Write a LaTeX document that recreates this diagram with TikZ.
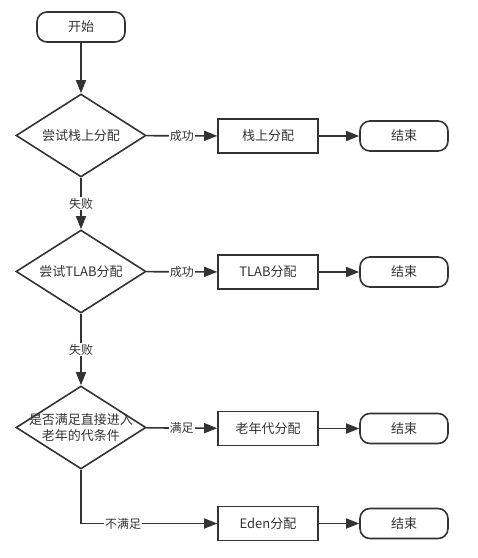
\documentclass[tikz,border=0pt]{standalone}
\usepackage{fontspec}
\setmainfont{Noto Sans CJK SC}
\usetikzlibrary{shapes.geometric,arrows.meta}
\definecolor{ink}{HTML}{333333}

\begin{document}
\begin{tikzpicture}[x=1pt,y=-1pt,
  every node/.style={text=ink},
  terminal/.style={draw=ink, line width=1.6pt, rounded corners=10pt,
    minimum width=88pt, minimum height=30pt, inner sep=0pt,
    font=\fontsize{13}{15}\selectfont},
  process/.style={draw=ink, line width=1.6pt,
    minimum width=100pt, minimum height=34pt, inner sep=0pt,
    font=\fontsize{13}{15}\selectfont},
  decision/.style={draw=ink, line width=1.6pt, diamond,
    minimum width=130pt, minimum height=83pt, inner sep=0pt},
  dtext/.style={align=center, font=\fontsize{13}{16}\selectfont, inner sep=0pt},
  flow/.style={draw=ink, line width=1.6pt, -{Triangle[length=13pt,width=10pt]}},
  lbl/.style={fill=white, inner sep=1pt, font=\fontsize{12}{14}\selectfont}]

\useasboundingbox (0,0) rectangle (478,558);

% start
\node[terminal] (start) at (81,27) {开始};

% decisions
\node[decision] (d1) at (81,135.5) {};
\node[dtext] at (d1) {尝试栈上分配};
\node[decision] (d2) at (81,271.5) {};
\node[dtext] at (d2) {尝试TLAB分配};
\node[decision] (d3) at (81,427.5) {};
\node[dtext] at (d3) {是否满足直接进入\\老年的代条件};

% allocation boxes
\node[process] (p1) at (268,136) {栈上分配};
\node[process] (p2) at (268,272) {TLAB分配};
\node[process] (p3) at (268,428.5) {老年代分配};
\node[process] (p4) at (268,523.5) {Eden分配};

% end terminals
\node[terminal] (e1) at (404,136) {结束};
\node[terminal] (e2) at (404,272) {结束};
\node[terminal] (e3) at (404,428.5) {结束};
\node[terminal] (e4) at (404,523.5) {结束};

% connectors
\draw[flow] (start) -- (d1);
\draw[flow] (d1) -- node[lbl] {成功} (p1);
\draw[flow] (d1) -- node[lbl] {失败} (d2);
\draw[flow] (d2) -- node[lbl] {成功} (p2);
\draw[flow] (d2) -- node[lbl] {失败} (d3);
\draw[flow] (d3) -- node[lbl] {满足} (p3);
\draw[flow] (d3.south) |- node[lbl, pos=0.655] {不满足} (p4);

\draw[flow] (p1) -- (e1);
\draw[flow] (p2) -- (e2);
\draw[flow] (p3) -- (e3);
\draw[flow] (p4) -- (e4);
\end{tikzpicture}
\end{document}
